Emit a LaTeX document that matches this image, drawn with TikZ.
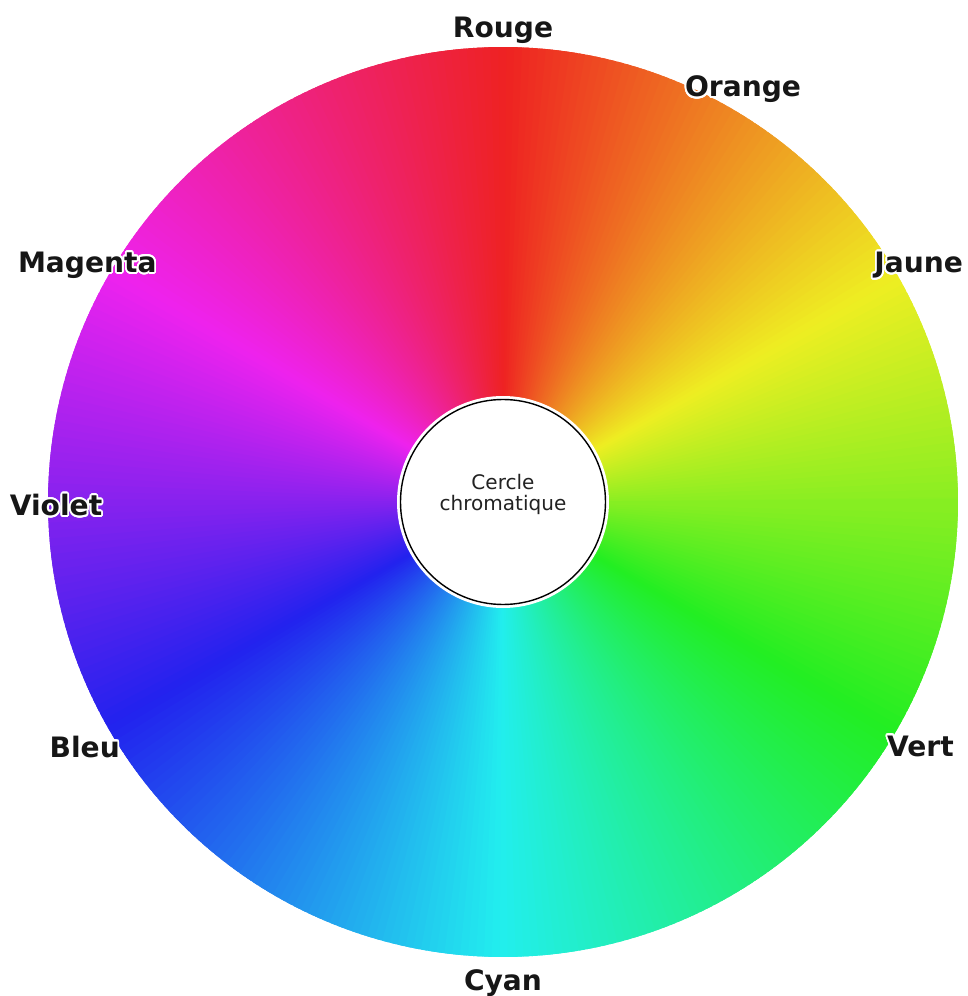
\documentclass[tikz,border=0pt]{standalone}
\usepackage{fontspec}
\setmainfont{DejaVu Sans}
\usepackage{contour}
\contourlength{1pt}
\contournumber{24}
\definecolor{inkgray}{HTML}{161616}
\definecolor{hubgray}{HTML}{222222}

\begin{document}
\begin{tikzpicture}[
  lbl/.style={font=\bfseries\fontsize{16}{19}\selectfont, text=inkgray, inner sep=1pt, yshift=-2.3pt},
  hub/.style={circle, draw=black, line width=0.8pt, fill=white, minimum size=4.1cm, inner sep=0pt,
    align=center, font=\fontsize{11.4}{12.2}\selectfont, text=hubgray}
]
\useasboundingbox (-10.06,-9.88) rectangle (9.28,10.04);
% wheel: one slice per degree, hue runs clockwise from red at the top
\foreach \a in {0,...,359}{
  \pgfmathsetmacro{\h}{mod(449.5-\a,360)}
  \definecolor{wedge}{Hsb}{\h,0.857,0.933}
  \fill[wedge] (0,0) -- (\a-0.4:9.1) arc[start angle=\a-0.4, end angle=\a+1.4, radius=9.1] -- cycle;
}
\fill[white] (0,0) circle (2.12);
\node[hub] (hub) at (0,0) {Cercle\\chromatique\\[-1pt]\mbox{}};

% names round the wheel
\node[lbl] (rouge)   at (90:9.5)   {\contour{white}{Rouge}};
\node[lbl] (orange)  at (60:9.6)   {\contour{white}{Orange}};
\node[lbl] (jaune)   at (30:9.6)   {\contour{white}{Jaune}};
\node[lbl] (vert)    at (-30:9.64) {\contour{white}{Vert}};
\node[lbl] (cyan)    at (-90:9.56) {\contour{white}{Cyan}};
\node[lbl] (bleu)    at (210:9.66) {\contour{white}{Bleu}};
\node[lbl] (violet)  at (180:8.94) {\contour{white}{Violet}};
\node[lbl] (magenta) at (150:9.6)  {\contour{white}{Magenta}};
\end{tikzpicture}
\end{document}
